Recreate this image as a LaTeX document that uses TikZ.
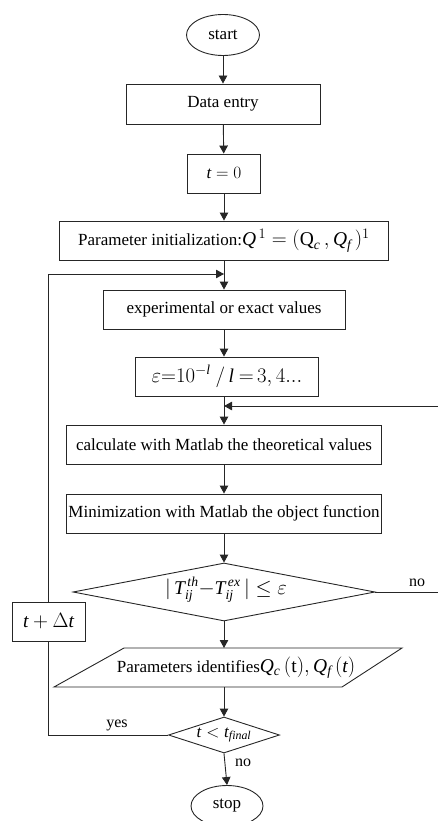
\documentclass[tikz,border=0pt]{standalone}
\usepackage{fontspec}
\setmainfont{Liberation Serif}
\usetikzlibrary{arrows.meta,shapes.geometric}
\newcommand\lgmath[1]{{\fontsize{19.5}{21}\selectfont$#1$}}
\begin{document}
\begin{tikzpicture}[x=1pt,y=-1pt,
  every node/.style={font=\fontsize{17}{19}\selectfont, inner sep=0pt},
  line/.style={line width=0.9pt, draw=black!85},
  box/.style={line, draw, rectangle, minimum height=39pt},
  term/.style={line, draw, ellipse, minimum width=73pt, minimum height=41pt},
  dec/.style={line, draw, diamond},
  arr/.style={line, -{Triangle[length=8pt,width=8.5pt]}},
  lbl/.style={font=\fontsize{16}{19}\selectfont}]
\useasboundingbox (0,0) rectangle (438,821);
\clip (0,0) rectangle (438,821);
% nodes
\node[term] (start) at (223,35) {start};
\node[box, minimum width=194pt, minimum height=40pt] (data) at (223,104) {Data entry};
\node[box, minimum width=73pt] (t0) at (224,173.5) {$\mathit{t}=0$};
\node[box, minimum width=329pt] (param) at (224,240.5) {Parameter initialization:\lgmath{\mathit{Q}^{\,1} = (\mathrm{Q}_{\mathit{c}}\,,\mathit{Q}_{\mathit{f}}\,)^{1}}};
\node[box, minimum width=242pt] (exp) at (224,309.5) {experimental or exact values};
\node[box, minimum width=183pt] (eps) at (227,376.5) {\lgmath{\varepsilon{=}10^{-\mathit{l}}\ /\,\mathit{l}\ {=}\,3,4...}};
\node[box, minimum width=315pt] (calc) at (224,444.5) {calculate with Matlab the theoretical values};
\node[box, minimum width=315pt] (min) at (224,513.5) {Minimization with Matlab the object function};
\node[dec, minimum width=302pt, minimum height=58pt] (d1) at (224,592) {};
\node (d1t) at (226,590) {\lgmath{\Big|\,\mathit{T}^{\,\mathit{th}}_{\mathit{ij}}{-}\mathit{T}^{\,\mathit{ex}}_{\mathit{ij}}\,\Big|\le\varepsilon}};
% parallelogram
\coordinate (pt) at (224,648);
\coordinate (pb) at (224,687);
\draw[line] (124,648) -- (402,648) -- (342,687) -- (54,687) -- cycle;
\node (par) at (236,667.5) {Parameters identifies\lgmath{\mathit{Q}_{\mathit{c}}\,(\mathrm{t}),\mathit{Q}_{\mathit{f}}\,(\mathit{t})}};
% small decision
\node[dec, minimum width=111pt, minimum height=36pt] (d2) at (224,735) {};
\node (d2t) at (224,735) {$\mathit{t}<\mathit{t}_{\mathit{final}}$};
\node[term, minimum width=72pt] (stop) at (227,806) {stop};
\node[box, minimum width=73pt] (tdt) at (48.5,621.5) {\lgmath{\mathit{t}+\Delta\mathit{t}}};
% coordinates
\coordinate (loopin) at (224,274);
\coordinate (noin) at (224,406);
\coordinate (r1) at (440,592);
\coordinate (r2) at (440,406);
\coordinate (lb) at (48.5,735);
\coordinate (lt) at (48.5,274);
% connectors
\draw[arr] (start) -- (data);
\draw[arr] (data) -- (t0);
\draw[arr] (t0) -- (param);
\draw[arr] (param) -- (exp);
\draw[arr] (exp) -- (eps.north -| exp.south);
\draw[arr] (eps.south -| exp.south) -- (calc);
\draw[arr] (calc) -- (min);
\draw[arr] (min) -- (d1);
\draw[arr] (d1.south) -- (pt);
\draw[arr] (pb) -- (d2.north);
\draw[arr] (d2.south) -- (stop.north);
\draw[line] (d2.west) -- (lb) -- (tdt.south);
\draw[arr] (tdt.north) -- (lt) -- (loopin);
\draw[arr] (d1.east) -- (r1) -- (r2) -- (noin);
% labels
\node[lbl] (no1) at (417,583) {no};
\node[lbl] (yes) at (117,725) {yes};
\node[lbl] (no2) at (243,763) {no};
\end{tikzpicture}
\end{document}
